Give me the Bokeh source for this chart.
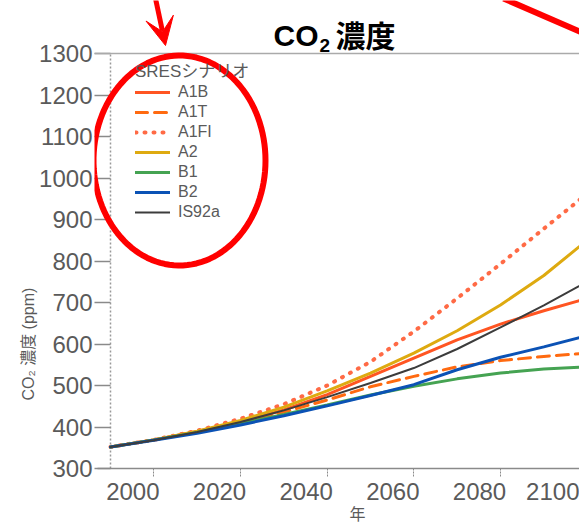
import numpy as np
from bokeh.plotting import figure
from bokeh.models import (Legend, LegendItem, Span, PolyAnnotation, Arrow,
                          VeeHead, FixedTicker, LinearAxis, Label, Title)
from bokeh.embed import file_html
from bokeh.resources import INLINE

years = [1990, 2000, 2010, 2020, 2030, 2040, 2050, 2060, 2070, 2080, 2090, 2100]
A1B = [352, 369, 389, 412, 441, 478, 522, 566, 610, 648, 680, 710]
A1T = [352, 369, 388, 410, 436, 465, 497, 522, 545, 560, 570, 578]
A1FI = [352, 369, 391, 420, 455, 500, 557, 630, 710, 793, 878, 962]
A2 = [352, 369, 390, 416, 448, 487, 530, 578, 632, 694, 765, 850]
B1 = [352, 369, 387, 408, 430, 453, 477, 498, 516, 530, 540, 545]
B2 = [352, 368, 385, 405, 427, 451, 476, 502, 538, 568, 593, 620]
IS92a = [352, 368, 388, 412, 440, 472, 506, 542, 588, 640, 693, 750]

y_ticks = [300, 400, 500, 600, 700, 800, 900, 1000, 1100, 1200, 1300]
x_ticks = [2000, 2020, 2040, 2060, 2080, 2100]

FONT = "Liberation Sans, 'Noto Sans CJK JP', sans-serif"
GRAY = "#5a5a5a"
RED = "#ff0000"
W, H = 579, 525
FL = 94            # frame left (page px)
AX = 110           # page x of the year-1990 axis
FB = 468           # page y of the 300 ppm baseline
PX_YR = 4.3333     # px per year
PX_PPM = 0.415     # px per ppm

p = figure(width=W, height=H, title=None,
           x_range=(1990 - (AX - FL) / PX_YR, 1990 + (W - AX) / PX_YR),
           y_range=(300, 300 + FB / PX_PPM),
           output_backend="svg", toolbar_location=None,
           min_border_left=FL, min_border_right=0, min_border_top=0,
           min_border_bottom=H - FB)
p.outline_line_color = None
p.grid.visible = False
p.background_fill_color = "white"

# y axis: labels outside, ticks reaching in to the 1990 line
ya = p.yaxis[0]
ya.ticker = FixedTicker(ticks=y_ticks)
ya.major_label_text_font = FONT
ya.major_label_text_font_size = "24px"
ya.major_label_text_color = GRAY
ya.minor_tick_line_color = None
ya.major_tick_in = AX - FL
ya.major_tick_out = 0
ya.major_tick_line_color = "#8a8a8a"
ya.major_tick_line_width = 1.5
ya.axis_line_color = None
ya.major_label_standoff = 2
# dotted vertical axis line at the first year
p.segment(x0=[years[0]], y0=[y_ticks[0]], x1=[years[0]], y1=[y_ticks[-1]],
          line_color="#999999", line_dash="2 2", line_width=1.5)

p.add_layout(Title(text="CO₂ 濃度 (ppm)", align="left", offset=68, standoff=0,
                   text_font=FONT, text_font_size="16px", text_font_style="normal",
                   text_color=GRAY), "left")

# x axis: tick marks
xa = p.xaxis[0]
xa.bounds = (1987, 2100)
xa.ticker = FixedTicker(ticks=x_ticks)
xa.minor_tick_line_color = None
xa.major_tick_in = 0
xa.major_tick_out = 8
xa.major_tick_line_color = "#8a8a8a"
xa.major_tick_line_dash = "2 1"
xa.axis_line_color = "#8a8a8a"
xa.axis_line_width = 1.5
xa.major_label_text_font_size = "1px"
xa.major_label_text_alpha = 0
xa.major_label_standoff = 0

# x axis: labels (sit slightly left of the ticks, as in the original figure)
shift = 21 / PX_YR
lab_pos = [t - shift for t in x_ticks]
xl = LinearAxis(ticker=FixedTicker(ticks=lab_pos),
                major_label_overrides={pos: str(t) for pos, t in zip(lab_pos, x_ticks)})
xl.axis_line_color = None
xl.major_tick_line_color = None
xl.minor_tick_line_color = None
xl.major_label_standoff = 0
xl.major_label_text_font = FONT
xl.major_label_text_font_size = "24px"
xl.major_label_text_color = GRAY
p.add_layout(xl, "below")
p.add_layout(Title(text="年", align="left", offset=349 - FL, standoff=3,
                   text_font=FONT, text_font_size="16px", text_font_style="normal",
                   text_color=GRAY), "below")

p.add_layout(Span(location=1300, dimension="width", line_color="#aaaaaa", line_width=1.5))

series = [
    ("A1B", A1B, "#ff5522", None, 3),
    ("A1T", A1T, "#ff6a10", "12 7", 3),
    ("A1FI", A1FI, "#ff6a45", "1 8", 4),
    ("A2", A2, "#deaa10", None, 3),
    ("B1", B1, "#45a352", None, 3),
    ("B2", B2, "#0b52b5", None, 3),
    ("IS92a", IS92a, "#3c3c3c", None, 2),
]
items = []
for name, vals, col, dash, lw in series:
    kw = dict(line_color=col, line_width=lw, line_cap="round")
    if dash:
        kw["line_dash"] = dash
    r = p.line(years, vals, **kw)
    items.append(LegendItem(label=name, renderers=[r]))

legend = Legend(items=items, location=(135 - FL, FB - 222), title="SRESシナリオ")
legend.border_line_color = None
legend.background_fill_alpha = 0
legend.margin = 0
legend.padding = 10
legend.spacing = 0
legend.label_height = 20
legend.glyph_height = 20
legend.glyph_width = 35
legend.label_standoff = 8
legend.label_text_font = FONT
legend.label_text_font_size = "16px"
legend.label_text_color = GRAY
legend.title_text_font = FONT
legend.title_text_font_size = "17px"
legend.title_text_font_style = "normal"
legend.title_text_color = GRAY
legend.title_standoff = 0
p.add_layout(legend)

# page pixel -> data helpers for placing annotations
def dx(px):
    return 1990 + (px - AX) / PX_YR
def dy(py):
    return 300 + (FB - py) / PX_PPM

# chart title: CO2 (subscript 2) 濃度
for txt, x, y, size in [("CO", 273, 35, "30px"), ("2", 319, 45, "19px"), ("濃度", 335, 36, "30px")]:
    p.add_layout(Label(x=dx(x), y=dy(y), text=txt, text_align="left",
                       text_baseline="alphabetic", text_font=FONT,
                       text_font_size=size, text_font_style="bold",
                       text_color="#000000"))

# red hand-drawn highlight: ellipse and arrows
t = np.linspace(0, 2 * np.pi, 120)
ex = [dx(179 + 86 * np.cos(a)) for a in t]
ey = [dy(160 + 105 * np.sin(a)) for a in t]
p.add_layout(PolyAnnotation(xs=ex, ys=ey, fill_alpha=0, line_color=RED,
                            line_alpha=1, line_width=6))
p.add_layout(Arrow(x_start=dx(155), y_start=dy(-2), x_end=dx(165), y_end=dy(45),
                   line_color=RED, line_width=5,
                   end=VeeHead(size=28, fill_color=RED, line_color=RED)))
p.add_layout(Arrow(x_start=dx(503), y_start=dy(-2), x_end=dx(600), y_end=dy(40),
                   line_color=RED, line_width=6, end=None))

open("out.html", "w").write(file_html(p, INLINE))
